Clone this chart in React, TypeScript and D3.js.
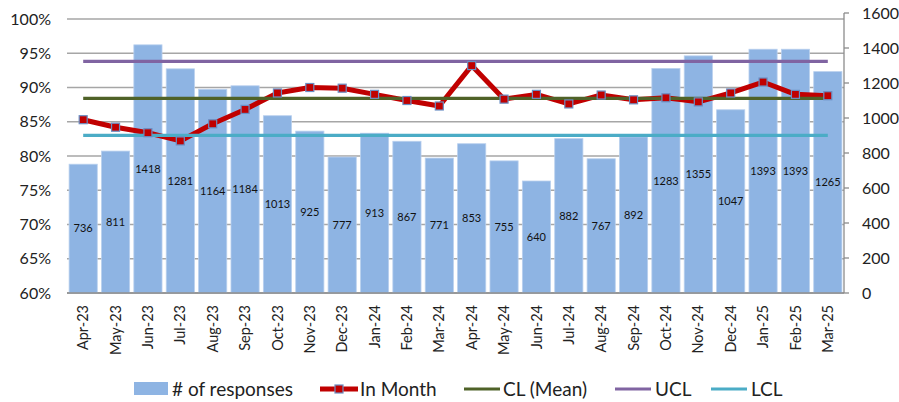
// App.tsx
import React from 'react';
import * as d3 from 'd3';

const months = [
  'Apr-23', 'May-23', 'Jun-23', 'Jul-23', 'Aug-23', 'Sep-23', 'Oct-23', 'Nov-23',
  'Dec-23', 'Jan-24', 'Feb-24', 'Mar-24', 'Apr-24', 'May-24', 'Jun-24', 'Jul-24',
  'Aug-24', 'Sep-24', 'Oct-24', 'Nov-24', 'Dec-24', 'Jan-25', 'Feb-25', 'Mar-25',
];

// # of responses (right axis)
const responses = [
  736, 811, 1418, 1281, 1164, 1184, 1013, 925, 777, 913, 867, 771,
  853, 755, 640, 882, 767, 892, 1283, 1355, 1047, 1393, 1393, 1265,
];

// In Month score (left axis, %)
const inMonth = [
  85.3, 84.2, 83.4, 82.2, 84.7, 86.8, 89.2, 90.0, 89.9, 89.0, 88.1, 87.3,
  93.2, 88.3, 89.0, 87.6, 88.9, 88.2, 88.5, 87.9, 89.2, 90.8, 89.0, 88.8,
];

const clMean = 88.4;
const ucl = 93.8;
const lcl = 83.0;

const leftTicks = [60, 65, 70, 75, 80, 85, 90, 95, 100];
const rightTicks = [0, 200, 400, 600, 800, 1000, 1200, 1400, 1600];

const FONT = 'Lato, "Open Sans", sans-serif';

const App: React.FC = () => {
  const width = 899;
  const height = 402;
  const plotLeft = 67;
  const plotRight = 844;

  const x = d3.scaleBand().domain(months).range([plotLeft, plotRight]).paddingInner(0.13).paddingOuter(0.065);
  const cx = (m: string) => (x(m) as number) + x.bandwidth() / 2;
  const yL = d3.scaleLinear().domain([60, 100]).range([293, 19]);
  const yR = d3.scaleLinear().domain([0, 1600]).range([293, 13]);

  const line = d3
    .line<number>()
    .x((_, i) => cx(months[i]))
    .y((d) => yL(d));

  const x0 = cx(months[0]);
  const x1 = cx(months[months.length - 1]);

  const refLines = [
    { v: clMean, color: '#4f6228' },
    { v: ucl, color: '#8064a2' },
    { v: lcl, color: '#4bacc6' },
  ];

  return (
    <svg width={width} height={height} style={{ position: 'absolute', left: 0, top: 0, background: '#fff' }}>
      {/* gridlines */}
      {leftTicks.map((t) => (
        <line key={t} x1={plotLeft} x2={plotRight} y1={yL(t)} y2={yL(t)} stroke="#a6a6a6" strokeWidth={1.3} />
      ))}
      {/* left tick labels */}
      {leftTicks.map((t) => (
        <text key={t} x={51} y={yL(t)} dy="0.35em" textAnchor="end" fontFamily={FONT} fontSize={16} fill="#222">
          {t}%
        </text>
      ))}
      {/* bars */}
      {responses.map((v, i) => (
        <rect
          key={months[i]}
          x={x(months[i])}
          y={yR(v)}
          width={x.bandwidth()}
          height={293 - yR(v)}
          fill="#8eb4e3"
          stroke="#b9d0ee"
          strokeWidth={0.8}
        />
      ))}
      {/* bar labels */}
      {responses.map((v, i) => (
        <text
          key={months[i]}
          x={cx(months[i])}
          y={yR(v / 2)}
          dy="0.35em"
          textAnchor="middle"
          fontFamily={FONT}
          fontSize={11}
          fill="#111"
        >
          {v}
        </text>
      ))}
      {/* right axis */}
      <line x1={plotRight} x2={plotRight} y1={yR(1600)} y2={293} stroke="#8c8c8c" strokeWidth={1.3} />
      {rightTicks.map((t) => (
        <g key={t}>
          <line x1={plotRight} x2={plotRight + 5} y1={yR(t)} y2={yR(t)} stroke="#8c8c8c" strokeWidth={1.3} />
          <text x={862} y={yR(t)} dy="0.35em" fontFamily={FONT} fontSize={16} fill="#222">
            {t}
          </text>
        </g>
      ))}
      {/* bottom axis */}
      <line x1={plotLeft} x2={plotRight} y1={293} y2={293} stroke="#8c8c8c" strokeWidth={1.3} />
      {months.map((m) => (
        <text
          key={m}
          transform={`translate(${cx(m)},${305}) rotate(-90)`}
          dy="0.35em"
          textAnchor="end"
          fontFamily={FONT}
          fontSize={14.5}
          fill="#222"
        >
          {m}
        </text>
      ))}
      {/* in month line */}
      <path d={line(inMonth) as string} fill="none" stroke="#c00000" strokeWidth={5} strokeLinejoin="round" />
      {/* reference lines */}
      {refLines.map((r) => (
        <line key={r.color} x1={x0} x2={x1} y1={yL(r.v)} y2={yL(r.v)} stroke={r.color} strokeWidth={3.2} />
      ))}
      {/* markers */}
      {inMonth.map((v, i) => (
        <rect
          key={months[i]}
          x={cx(months[i]) - 4}
          y={yL(v) - 4}
          width={8}
          height={8}
          fill="#c00000"
          stroke="#6a8fc4"
          strokeWidth={1.2}
        />
      ))}
      {/* legend */}
      <g fontFamily={FONT} fontSize={19} fill="#222">
        <rect x={134} y={382} width={34} height={13} fill="#8eb4e3" />
        <text x={172} y={389} dy="0.35em">
          # of responses
        </text>
        <line x1={320} x2={358} y1={389} y2={389} stroke="#c00000" strokeWidth={5} />
        <rect x={335} y={385} width={8} height={8} fill="#c00000" stroke="#6a8fc4" strokeWidth={1.2} />
        <text x={360} y={389} dy="0.35em">
          In Month
        </text>
        <line x1={464} x2={500} y1={389} y2={389} stroke="#4f6228" strokeWidth={3.2} />
        <text x={503} y={389} dy="0.35em">
          CL (Mean)
        </text>
        <line x1={615} x2={651} y1={389} y2={389} stroke="#8064a2" strokeWidth={3.2} />
        <text x={655} y={389} dy="0.35em">
          UCL
        </text>
        <line x1={711} x2={747} y1={389} y2={389} stroke="#4bacc6" strokeWidth={3.2} />
        <text x={751} y={389} dy="0.35em">
          LCL
        </text>
      </g>
    </svg>
  );
};

export default App;
